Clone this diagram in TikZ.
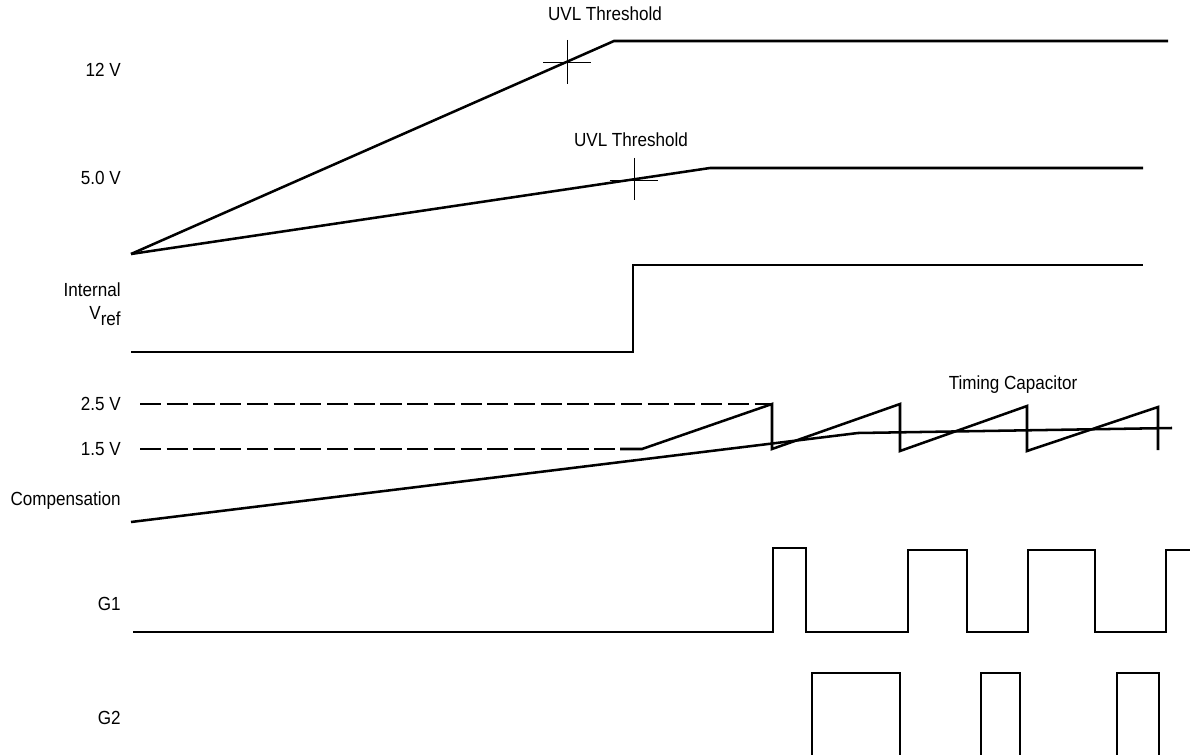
\documentclass[tikz,border=0pt]{standalone}
\usepackage{fontspec}
\setmainfont{Liberation Sans}[FakeStretch=0.9]
\usepackage{tikz}
\usetikzlibrary{positioning}

\begin{document}
\begin{tikzpicture}[
    x=0.025cm,
    y=-0.025cm,
    sigtext/.style={
        inner sep=0pt,
        font=\fontsize{13.5}{16}\selectfont
    },
    signame/.style={
        sigtext,
        anchor=east,
        align=right
    },
    wave/.style={
        line width=1.8pt,
        line join=miter
    },
    refline/.style={
        line width=1.6pt,
        dash pattern=on 15pt off 4pt
    },
    mark line/.style={
        line width=0.7pt
    }
]
\useasboundingbox (0,0) rectangle (1190,755);

% Signal names
\node[signame] (v12) at (121,70) {12 V};
\node[signame] (v5) at (121,178) {5.0 V};
\node[signame] (vref) at (121,304) {Internal\\V\raisebox{-0.6ex}{ref}};
\node[signame] (v25) at (121,404) {2.5 V};
\node[signame] (v15) at (121,449) {1.5 V};
\node[signame] (comp) at (121,501) {Compensation};
\node[signame] (g1) at (121,604) {G1};
\node[signame] (g2) at (121,718) {G2};

% Annotations
\node[sigtext] (uvla) at (605,14) {UVL Threshold};
\node[sigtext] (uvlb) at (631,140) {UVL Threshold};
\node[sigtext] (tcap) at (1013,385) {Timing Capacitor};

% Supply ramps
\coordinate (start) at (131,254);
\draw[wave] (start) -- (614,41) -- (1168,41);
\draw[wave] (start) -- (710,168) -- (1143,168);
\draw[mark line] (543,62) -- (591,62) (567,40) -- (567,84);
\draw[mark line] (610,180) -- (658,180) (634,158) -- (634,200);

% Internal reference
\draw[wave] (131,352) -- (633,352) -- (633,265) -- (1143,265);

% Oscillator levels
\draw[refline] (140,404) -- (772,404);
\draw[refline] (140,449) -- (620,449);
\draw[wave] (620,449) -- (642,449) -- (772,404) -- (772,449)
    -- (900,404) -- (900,451) -- (1027,406) -- (1027,451)
    -- (1158,407) -- (1158,450);

% Compensation
\draw[wave] (131,522) -- (858,433) -- (1172,428);

% Gate outputs
\draw[wave] (133,632) -- (773,632) -- (773,548) -- (806,548) -- (806,632)
    -- (908,632) -- (908,550) -- (967,550) -- (967,632)
    -- (1028,632) -- (1028,550) -- (1095,550) -- (1095,632)
    -- (1166,632) -- (1166,550) -- (1190,550);
\draw[wave] (812,760) -- (812,673) -- (900,673) -- (900,760);
\draw[wave] (981,760) -- (981,673) -- (1020,673) -- (1020,760);
\draw[wave] (1117,760) -- (1117,673) -- (1159,673) -- (1159,760);

\end{tikzpicture}
\end{document}
